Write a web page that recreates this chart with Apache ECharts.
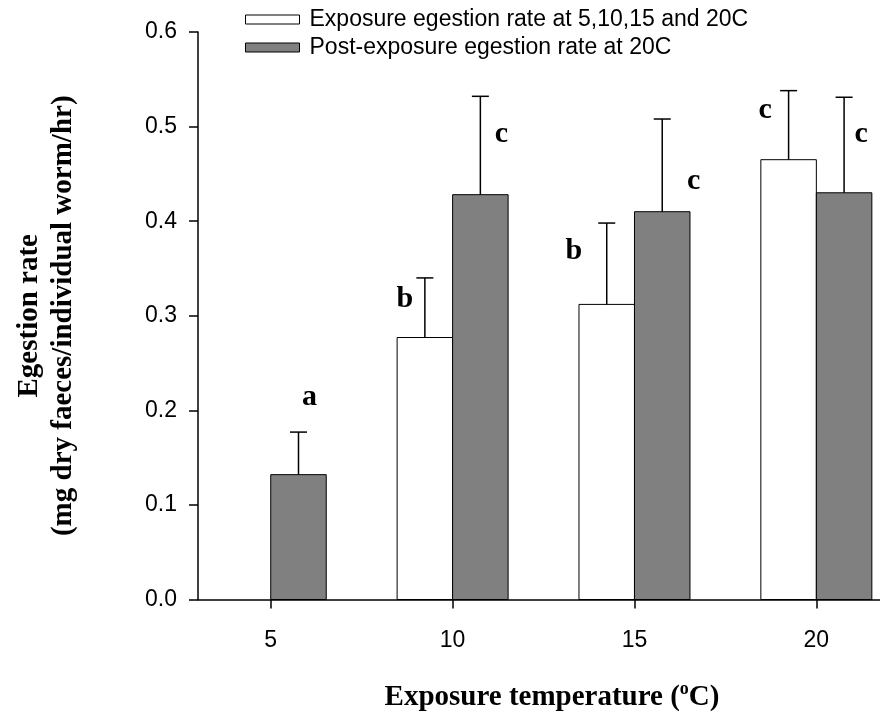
<!DOCTYPE html>
<html>
<head>
<meta charset="utf-8">
<script src="https://cdn.jsdelivr.net/npm/echarts@6/dist/echarts.min.js"></script>
<style>
  html, body { margin: 0; padding: 0; background: #fff; }
  #chart { width: 880px; height: 717px; }
</style>
</head>
<body>
<div id="chart"></div>
<script>
// Egestion rate by exposure temperature (mean + error)
const temperatures = [5, 10, 15, 20];
const exposureRate = [null, 0.277, 0.312, 0.465];
const exposureError = [null, 0.063, 0.086, 0.073];
const exposureLetters = ['', 'b', 'b', 'c'];
const postRate = [0.132, 0.428, 0.410, 0.430];
const postError = [0.045, 0.104, 0.098, 0.101];
const postLetters = ['a', 'c', 'c', 'c'];
const yTicks = [0, 0.1, 0.2, 0.3, 0.4, 0.5, 0.6];

const seriesNames = [
  'Exposure egestion rate at 5,10,15 and 20C',
  'Post-exposure egestion rate at 20C'
];

// drawing constants
const BAR_W = 55.5;
const CAP_W = 17;
const GREY = '#808080';
const SANS = 'Liberation Sans, Arial, sans-serif';
const SERIF = 'Liberation Serif, Times New Roman, serif';
// significance letter placement, px from the top of each error bar: [dx, text-top dy]
const exposureLetterOffset = [null, [-20, 6], [-33, 13], [-23.5, 5]];
const postLetterOffset = [[11, -50], [21, 23], [31.5, 47], [17, 22]];

function barRenderer(side, fill, letters, offsets) {
  return function (params, api) {
    const t = api.value(0);
    const v = api.value(1);
    const e = api.value(2);
    if (isNaN(v)) return null;
    const base = api.coord([t, 0]);
    const top = api.coord([t, v]);
    const capY = api.coord([t, v + e])[1];
    const x0 = side < 0 ? base[0] - BAR_W : base[0];
    const cx = x0 + BAR_W / 2;
    const children = [
      { type: 'rect', shape: { x: x0, y: top[1], width: BAR_W, height: base[1] - top[1] },
        style: { fill: fill, stroke: '#000', lineWidth: 1 } },
      { type: 'line', shape: { x1: cx, y1: top[1], x2: cx, y2: capY },
        style: { stroke: '#000', lineWidth: 1.5 } },
      { type: 'line', shape: { x1: cx - CAP_W / 2, y1: capY, x2: cx + CAP_W / 2, y2: capY },
        style: { stroke: '#000', lineWidth: 1.5 } }
    ];
    const letter = letters[params.dataIndex];
    const off = offsets[params.dataIndex];
    if (letter && off) {
      children.push({
        type: 'text',
        style: {
          text: letter, x: cx + off[0], y: capY + off[1],
          align: 'center', verticalAlign: 'top',
          font: 'bold 30px ' + SERIF, fill: '#000'
        }
      });
    }
    return { type: 'group', children: children };
  };
}

const chart = echarts.init(document.getElementById('chart'), null, { renderer: 'canvas' });

chart.setOption({
  animation: false,
  backgroundColor: '#fff',
  grid: { left: 198, top: 32, width: 682, height: 570, containLabel: false },
  legend: {
    orient: 'vertical',
    left: 240,
    top: 3,
    itemWidth: 54,
    itemHeight: 9,
    itemGap: 5,
    icon: 'rect',
    selectedMode: false,
    textStyle: { fontFamily: SANS, fontSize: 23, color: '#000', padding: [0, 0, 0, 5] },
    data: [
      { name: seriesNames[0], itemStyle: { color: '#fff', borderColor: '#000', borderWidth: 1 } },
      { name: seriesNames[1], itemStyle: { color: GREY, borderColor: '#000', borderWidth: 1 } }
    ]
  },
  xAxis: {
    type: 'value',
    min: 3,
    max: 21.75,
    name: '{t|Exposure temperature (}{s|o}{t|C)}',
    nameLocation: 'middle',
    nameGap: 81,
    nameTextStyle: {
      padding: [0, 0, 0, 26],
      rich: {
        t: { fontFamily: SERIF, fontWeight: 'bold', fontSize: 29, color: '#000', lineHeight: 34 },
        s: { fontFamily: SERIF, fontWeight: 'bold', fontSize: 18, color: '#000', verticalAlign: 'top', lineHeight: 34, padding: [0, 0, 12, 0] }
      }
    },
    axisLine: { onZero: false, lineStyle: { color: '#000', width: 1.5 } },
    axisTick: { show: true, customValues: temperatures, length: 9, inside: false, lineStyle: { color: '#000', width: 1.5 } },
    axisLabel: { customValues: temperatures, margin: 30, fontFamily: SANS, fontSize: 23, color: '#000' },
    splitLine: { show: false }
  },
  yAxis: {
    type: 'value',
    min: 0,
    max: 0.6,
    interval: 0.1,
    name: 'Egestion rate\n(mg dry faeces/individual worm/hr)',
    nameLocation: 'middle',
    nameGap: 117,
    nameTextStyle: { fontFamily: SERIF, fontWeight: 'bold', fontSize: 29, lineHeight: 34, color: '#000' },
    axisLine: { show: true, lineStyle: { color: '#000', width: 1.5 } },
    axisTick: { show: true, customValues: yTicks, length: 9, lineStyle: { color: '#000', width: 1.5 } },
    axisLabel: { customValues: yTicks, margin: 21, fontFamily: SANS, fontSize: 23, color: '#000',
      formatter: function (v) { return v.toFixed(1); } },
    splitLine: { show: false }
  },
  series: [
    {
      name: seriesNames[0],
      type: 'custom',
      itemStyle: { color: '#fff', borderColor: '#000' },
      encode: { x: 0, y: 1 },
      data: temperatures.map(function (t, i) { return [t, exposureRate[i], exposureError[i]]; }),
      renderItem: barRenderer(-1, '#fff', exposureLetters, exposureLetterOffset),
      z: 2
    },
    {
      name: seriesNames[1],
      type: 'custom',
      itemStyle: { color: GREY, borderColor: '#000' },
      encode: { x: 0, y: 1 },
      data: temperatures.map(function (t, i) { return [t, postRate[i], postError[i]]; }),
      renderItem: barRenderer(1, GREY, postLetters, postLetterOffset),
      z: 2
    }
  ]
});
</script>
</body>
</html>
